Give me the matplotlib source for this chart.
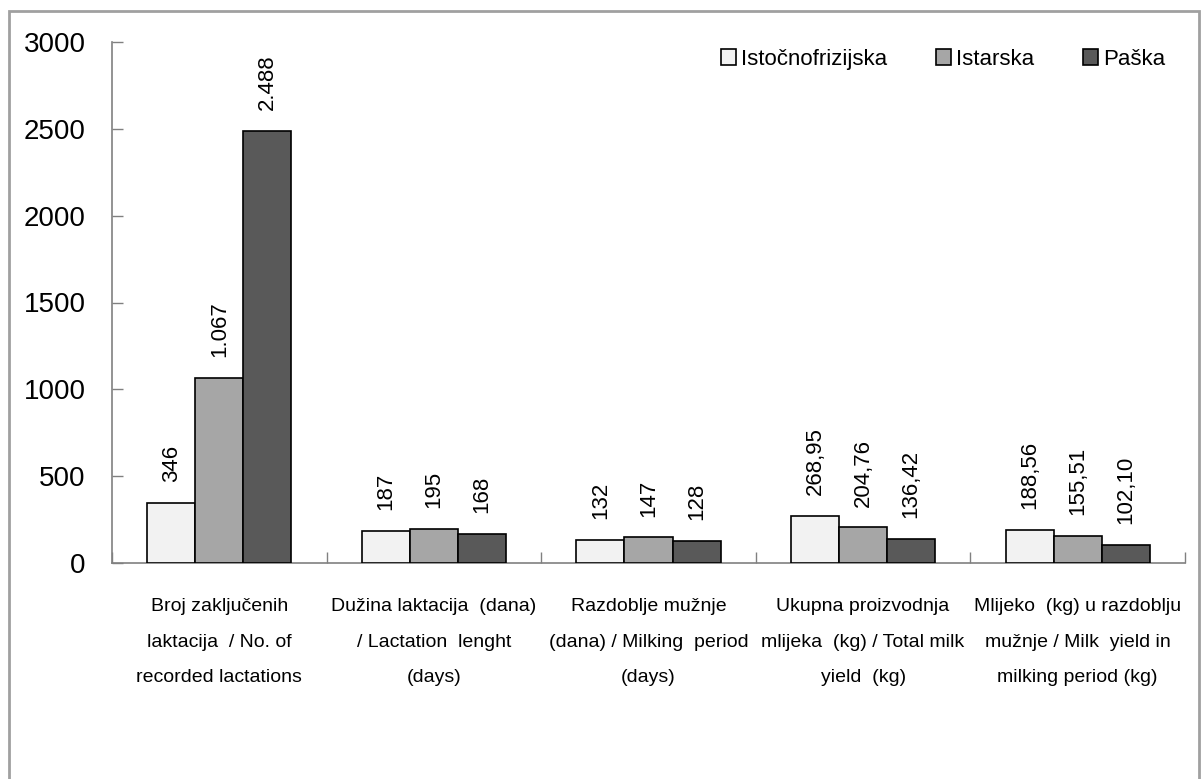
import numpy as np
import matplotlib
matplotlib.use("Agg")
import matplotlib.pyplot as plt
from matplotlib.patches import Rectangle

plt.rcParams['font.family'] = ['Liberation Sans', 'DejaVu Sans']

categories = [
    "Broj zaključenih\nlaktacija  / No. of\nrecorded lactations",
    "Dužina laktacija  (dana)\n/ Lactation  lenght\n(days)",
    "Razdoblje mužnje\n(dana) / Milking  period\n(days)",
    "Ukupna proizvodnja\nmlijeka  (kg) / Total milk\nyield  (kg)",
    "Mlijeko  (kg) u razdoblju\nmužnje / Milk  yield in\nmilking period (kg)",
]
breeds = ["Istočnofrizijska", "Istarska", "Paška"]
istocnofrizijska = [346, 187, 132, 268.95, 188.56]
istarska = [1067, 195, 147, 204.76, 155.51]
paska = [2488, 168, 128, 136.42, 102.10]
labels_ist = ["346", "187", "132", "268,95", "188,56"]
labels_istar = ["1.067", "195", "147", "204,76", "155,51"]
labels_pas = ["2.488", "168", "128", "136,42", "102,10"]

series = [istocnofrizijska, istarska, paska]
series_labels = [labels_ist, labels_istar, labels_pas]
colors = ['#f2f2f2', '#a6a6a6', '#595959']

fig = plt.figure(figsize=(12.03, 7.79), dpi=100)
ax = fig.add_axes([112/1203, 1-563/779, (1185-112)/1203, (563-42)/779])

x = np.arange(len(categories)) + 0.5
w = 0.224
for i in range(3):
    bars = ax.bar(x + (i-1)*w, series[i], w, color=colors[i], edgecolor='black',
                  linewidth=1.2, label=breeds[i], zorder=3)
    for b, lab in zip(bars, series_labels[i]):
        ax.annotate(lab, (b.get_x() + b.get_width()/2, b.get_height()),
                    xytext=(0, 15), textcoords='offset points', rotation=90,
                    ha='center', va='bottom', fontsize=16)

ax.set_xlim(0, 5)
ax.set_ylim(0, 3000)
ax.set_yticks(np.arange(0, 3001, 500))
ax.tick_params(axis='y', direction='in', length=8, width=1, color='#808080',
               labelsize=20, pad=19)
ax.set_xticks(np.arange(0, 6))
ax.set_xticklabels([])
ax.tick_params(axis='x', which='major', direction='in', length=8, width=1, color='#808080')

# category names under each group
for xi, cat in zip(x, categories):
    ax.text(xi, -0.068, cat, transform=ax.get_xaxis_transform(), ha='center', va='top',
            fontsize=14, linespacing=2.4)

for s in ['top', 'right']:
    ax.spines[s].set_visible(False)
for s in ['left', 'bottom']:
    ax.spines[s].set_color('#808080')
    ax.spines[s].set_linewidth(1.2)

leg = ax.legend(loc='upper right', bbox_to_anchor=(1.0, 1.025), ncol=3, frameon=False,
                fontsize=16, handlelength=0.7, handleheight=0.7, handletextpad=0.2,
                columnspacing=2.2)

fig.patches.append(Rectangle((9/1203, -0.05), (1199-9)/1203, 1.05-11/779,
                             transform=fig.transFigure, fill=False,
                             edgecolor='#a0a0a0', linewidth=2))

fig.savefig('out.png', dpi=100)
